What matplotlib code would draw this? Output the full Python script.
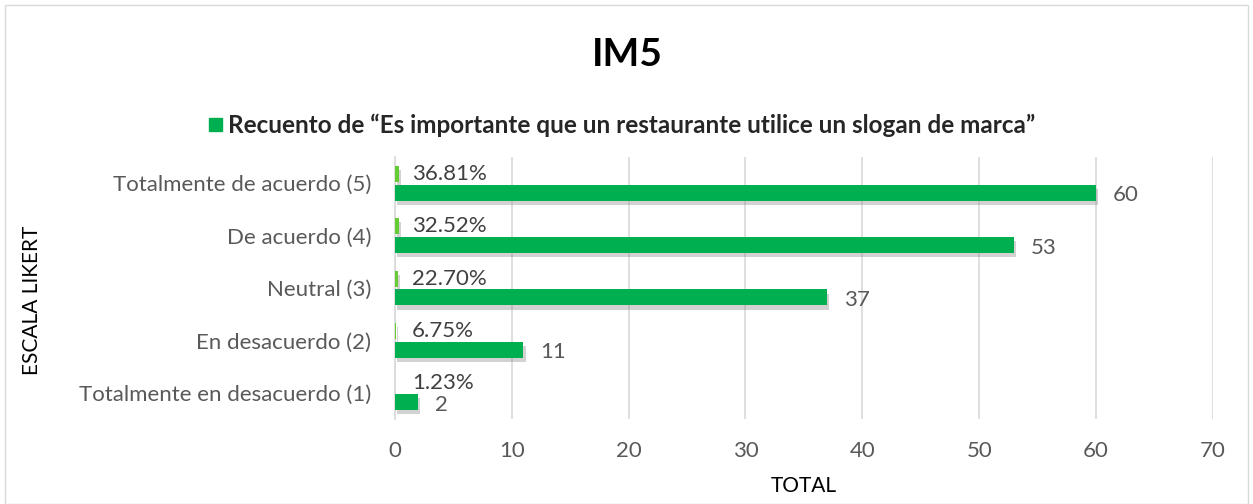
import matplotlib
matplotlib.use("Agg")
import matplotlib.pyplot as plt
import matplotlib.patheffects as pe
from matplotlib.patches import Rectangle
import numpy as np

categories = ["Totalmente en desacuerdo (1)", "En desacuerdo (2)", "Neutral (3)",
              "De acuerdo (4)", "Totalmente de acuerdo (5)"]
counts = [2, 11, 37, 53, 60]
percents = [0.0123, 0.0675, 0.2270, 0.3252, 0.3681]
xticks = [0, 10, 20, 30, 40, 50, 60, 70]

plt.rcParams['font.family'] = ['Lato', 'DejaVu Sans']

fig = plt.figure(figsize=(12.53, 5.04), dpi=100)
ax = fig.add_axes([0.3152, 1 - 419/504, 0.6528, 262/504])

y = np.arange(len(categories))
h = 0.305
off = 0.18
shadow = [pe.SimplePatchShadow(offset=(1.5, -3), shadow_rgbFace='#7f7f7f', alpha=0.35), pe.Normal()]

bc = ax.barh(y - off, counts, height=h, color='#00B050', zorder=3)
bp = ax.barh(y + off, percents, height=h, color='#66CC33', zorder=3)
for b in list(bc) + list(bp):
    b.set_path_effects(shadow)

for yi, c in zip(y, counts):
    ax.text(c + 1.4, yi - off - 0.05, str(c), va='center', ha='left', fontsize=16, color='#595959')
for yi, p in zip(y, percents):
    ax.text(1.45, yi + off + 0.0, f"{p*100:.2f}%", va='center', ha='left', fontsize=16, color='#404040')

ax.set_xlim(0, 70)
ax.set_ylim(-0.5, 4.5)
ax.set_xticks(xticks)
ax.set_yticks(y)
ax.set_yticklabels(categories)
ax.tick_params(axis='both', length=0, labelsize=16, colors='#595959')
ax.tick_params(axis='y', pad=17)
ax.tick_params(axis='x', pad=16)
ax.grid(axis='x', color='#D9D9D9', linewidth=1.2, zorder=0)
for s in ['top', 'right', 'bottom']:
    ax.spines[s].set_visible(False)
ax.spines['left'].set_color('#D9D9D9')
ax.spines['left'].set_linewidth(1.2)

ax.set_xlabel("TOTAL", fontsize=15, color='#000000', labelpad=11)
fig.text(32/1253, 1-300/504, "ESCALA LIKERT", rotation=90, va='center', ha='center', fontsize=15)

fig.text(0.501, 1-55/504, "IM5", ha='center', va='center', fontsize=28, fontweight='bold')

fig.patches.append(Rectangle((209/1253, 1-131/504), 13/1253, 13/504, transform=fig.transFigure,
                             color='#00B050'))
fig.text(228/1253, 1-125/504, "Recuento de \u201cEs importante que un restaurante utilice un slogan de marca\u201d",
         ha='left', va='center', fontsize=17.5, fontweight='bold', color='#262626')

fig.patches.append(Rectangle((5/1253, 0), 1243/1253, 1-5/504, transform=fig.transFigure,
                             fill=False, edgecolor='#D9D9D9', linewidth=1))

fig.savefig("out.png", dpi=100)
